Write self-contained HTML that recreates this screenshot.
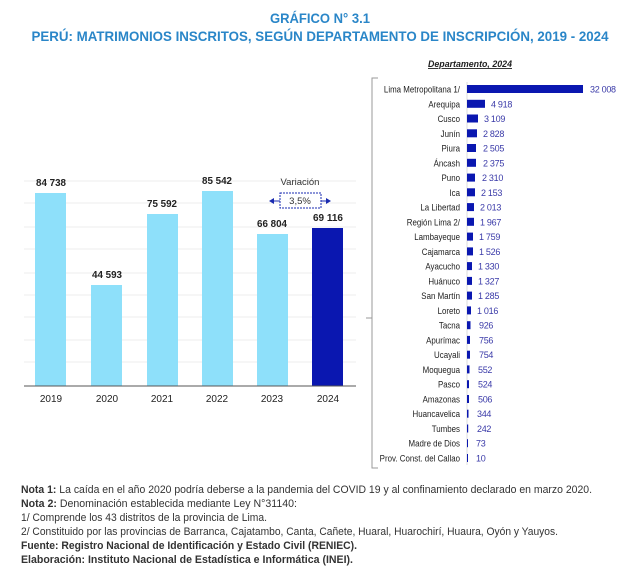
<!DOCTYPE html>
<html><head><meta charset="utf-8"><style>
html,body{margin:0;padding:0;background:#fff;}
svg{display:block;font-family:"Liberation Sans",sans-serif;}
</style></head><body>
<svg width="640" height="582" viewBox="0 0 640 582" xmlns="http://www.w3.org/2000/svg">
<!-- Title -->
<text x="320" y="23" text-anchor="middle" font-size="14" font-weight="bold" fill="#2a86c8" textLength="100" lengthAdjust="spacingAndGlyphs">GRÁFICO N° 3.1</text>
<text x="320" y="41" text-anchor="middle" font-size="14" font-weight="bold" fill="#2a86c8" textLength="577" lengthAdjust="spacingAndGlyphs">PERÚ: MATRIMONIOS INSCRITOS, SEGÚN DEPARTAMENTO DE INSCRIPCIÓN, 2019 - 2024</text>

<!-- Left chart gridlines -->
<g stroke="#ececec" stroke-width="1">
<line x1="24" x2="356" y1="181" y2="181"/><line x1="24" x2="356" y1="203" y2="203"/>
<line x1="24" x2="356" y1="227" y2="227"/><line x1="24" x2="356" y1="249" y2="249"/>
<line x1="24" x2="356" y1="273" y2="273"/><line x1="24" x2="356" y1="295" y2="295"/>
<line x1="24" x2="356" y1="317" y2="317"/><line x1="24" x2="356" y1="340" y2="340"/>
<line x1="24" x2="356" y1="362" y2="362"/>
</g>
<g fill="#8ee0fa">
<rect x="35" y="193" width="31" height="193"/>
<rect x="91" y="285" width="31" height="101"/>
<rect x="147" y="214" width="31" height="172"/>
<rect x="202" y="191" width="31" height="195"/>
<rect x="257" y="234" width="31" height="152"/>
</g>
<rect x="312" y="228" width="31" height="158" fill="#0a17b0"/>
<line x1="24" x2="356" y1="386" y2="386" stroke="#555" stroke-width="1"/>
<g font-size="10" font-weight="bold" fill="#222" text-anchor="middle">
<text x="51" y="186" textLength="30" lengthAdjust="spacingAndGlyphs">84 738</text>
<text x="107" y="278" textLength="30" lengthAdjust="spacingAndGlyphs">44 593</text>
<text x="162" y="207" textLength="30" lengthAdjust="spacingAndGlyphs">75 592</text>
<text x="217" y="184" textLength="30" lengthAdjust="spacingAndGlyphs">85 542</text>
<text x="272" y="227" textLength="30" lengthAdjust="spacingAndGlyphs">66 804</text>
<text x="328" y="221" textLength="30" lengthAdjust="spacingAndGlyphs">69 116</text>
</g>
<g font-size="10" fill="#222" text-anchor="middle">
<text x="51" y="402">2019</text><text x="107" y="402">2020</text><text x="162" y="402">2021</text>
<text x="217" y="402">2022</text><text x="272" y="402">2023</text><text x="328" y="402">2024</text>
</g>
<text x="300" y="185" font-size="9.5" fill="#333" text-anchor="middle">Variación</text>
<rect x="280" y="193" width="41" height="15" fill="#fff" stroke="#1a2bb0" stroke-dasharray="2,1"/>
<text x="300" y="204" font-size="9.5" fill="#333" text-anchor="middle">3,5%</text>
<line x1="273" x2="280" y1="201" y2="201" stroke="#1a2bb0"/>
<polygon points="269,201 274,198 274,204" fill="#1a2bb0"/>
<line x1="321" x2="327" y1="201" y2="201" stroke="#1a2bb0"/>
<polygon points="331,201 326,198 326,204" fill="#1a2bb0"/>

<!-- Right chart -->
<text x="470" y="67" font-size="9" font-weight="bold" font-style="italic" fill="#222" text-anchor="middle" text-decoration="underline" textLength="84" lengthAdjust="spacingAndGlyphs">Departamento, 2024</text>
<path d="M378,78 H372 V468 H378 M372,318 H366" fill="none" stroke="#999" stroke-width="1"/>
<line x1="467" x2="467" y1="82" y2="465" stroke="#ddd"/>
<g font-size="9">
<g text-anchor="end" fill="#222" transform="translate(460,0) scale(0.88,1)">
<text x="0" y="92.5">Lima Metropolitana 1/</text>
<text x="0" y="107.3">Arequipa</text>
<text x="0" y="122">Cusco</text>
<text x="0" y="136.8">Junín</text>
<text x="0" y="151.5">Piura</text>
<text x="0" y="166.3">Áncash</text>
<text x="0" y="181.1">Puno</text>
<text x="0" y="195.8">Ica</text>
<text x="0" y="210.6">La Libertad</text>
<text x="0" y="225.3">Región Lima 2/</text>
<text x="0" y="240.1">Lambayeque</text>
<text x="0" y="254.9">Cajamarca</text>
<text x="0" y="269.6">Ayacucho</text>
<text x="0" y="284.4">Huánuco</text>
<text x="0" y="299.1">San Martín</text>
<text x="0" y="313.9">Loreto</text>
<text x="0" y="328.7">Tacna</text>
<text x="0" y="343.4">Apurímac</text>
<text x="0" y="358.2">Ucayali</text>
<text x="0" y="372.9">Moquegua</text>
<text x="0" y="387.7">Pasco</text>
<text x="0" y="402.5">Amazonas</text>
<text x="0" y="417.2">Huancavelica</text>
<text x="0" y="432">Tumbes</text>
<text x="0" y="446.7">Madre de Dios</text>
<text x="0" y="461.5">Prov. Const. del Callao</text>
</g>
<g fill="#0a17b0">
<rect x="467" y="85" width="116" height="8"/>
<rect x="467" y="99.8" width="18" height="8"/>
<rect x="467" y="114.5" width="11" height="8"/>
<rect x="467" y="129.3" width="10" height="8"/>
<rect x="467" y="144" width="9" height="8"/>
<rect x="467" y="158.8" width="9" height="8"/>
<rect x="467" y="173.6" width="8" height="8"/>
<rect x="467" y="188.3" width="8" height="8"/>
<rect x="467" y="203.1" width="7" height="8"/>
<rect x="467" y="217.8" width="7" height="8"/>
<rect x="467" y="232.6" width="6" height="8"/>
<rect x="467" y="247.4" width="6" height="8"/>
<rect x="467" y="262.1" width="5" height="8"/>
<rect x="467" y="276.9" width="5" height="8"/>
<rect x="467" y="291.6" width="5" height="8"/>
<rect x="467" y="306.4" width="4" height="8"/>
<rect x="467" y="321.2" width="3.5" height="8"/>
<rect x="467" y="335.9" width="3" height="8"/>
<rect x="467" y="350.7" width="3" height="8"/>
<rect x="467" y="365.4" width="2.5" height="8"/>
<rect x="467" y="380.2" width="2" height="8"/>
<rect x="467" y="395" width="2" height="8"/>
<rect x="467" y="409.7" width="1.5" height="8"/>
<rect x="467" y="424.5" width="1.2" height="8"/>
<rect x="467" y="439.2" width="1" height="8"/>
<rect x="467" y="454" width="1" height="8"/>
</g>
<g fill="#3a3aa8" letter-spacing="-0.3">
<text x="590" y="92.5">32 008</text>
<text x="491" y="107.3">4 918</text>
<text x="484" y="122">3 109</text>
<text x="483" y="136.8">2 828</text>
<text x="483" y="151.5">2 505</text>
<text x="483" y="166.3">2 375</text>
<text x="482" y="181.1">2 310</text>
<text x="481" y="195.8">2 153</text>
<text x="480" y="210.6">2 013</text>
<text x="480" y="225.3">1 967</text>
<text x="479" y="240.1">1 759</text>
<text x="479" y="254.9">1 526</text>
<text x="478" y="269.6">1 330</text>
<text x="478" y="284.4">1 327</text>
<text x="478" y="299.1">1 285</text>
<text x="477" y="313.9">1 016</text>
<text x="479" y="328.7">926</text>
<text x="479" y="343.4">756</text>
<text x="479" y="358.2">754</text>
<text x="478" y="372.9">552</text>
<text x="478" y="387.7">524</text>
<text x="478" y="402.5">506</text>
<text x="477" y="417.2">344</text>
<text x="477" y="432">242</text>
<text x="476" y="446.7">73</text>
<text x="476" y="461.5">10</text>
</g>
</g>

<!-- Notes -->
<g font-size="11" fill="#333">
<text x="21" y="493" textLength="571" lengthAdjust="spacingAndGlyphs"><tspan font-weight="bold">Nota 1:</tspan> La caída en el año 2020 podría deberse a la pandemia del COVID 19 y al confinamiento declarado en marzo 2020.</text>
<text x="21" y="507" textLength="276" lengthAdjust="spacingAndGlyphs"><tspan font-weight="bold">Nota 2:</tspan> Denominación establecida mediante Ley N°31140:</text>
<text x="21" y="521" textLength="246" lengthAdjust="spacingAndGlyphs">1/ Comprende los 43 distritos de la provincia de Lima.</text>
<text x="21" y="535" textLength="537" lengthAdjust="spacingAndGlyphs">2/ Constituido por las provincias de Barranca, Cajatambo, Canta, Cañete, Huaral, Huarochirí, Huaura, Oyón y Yauyos.</text>
<text x="21" y="549" font-weight="bold" textLength="336" lengthAdjust="spacingAndGlyphs">Fuente: Registro Nacional de Identificación y Estado Civil (RENIEC).</text>
<text x="21" y="563" font-weight="bold" textLength="332" lengthAdjust="spacingAndGlyphs">Elaboración: Instituto Nacional de Estadística e Informática (INEI).</text>
</g>
</svg>
</body></html>
